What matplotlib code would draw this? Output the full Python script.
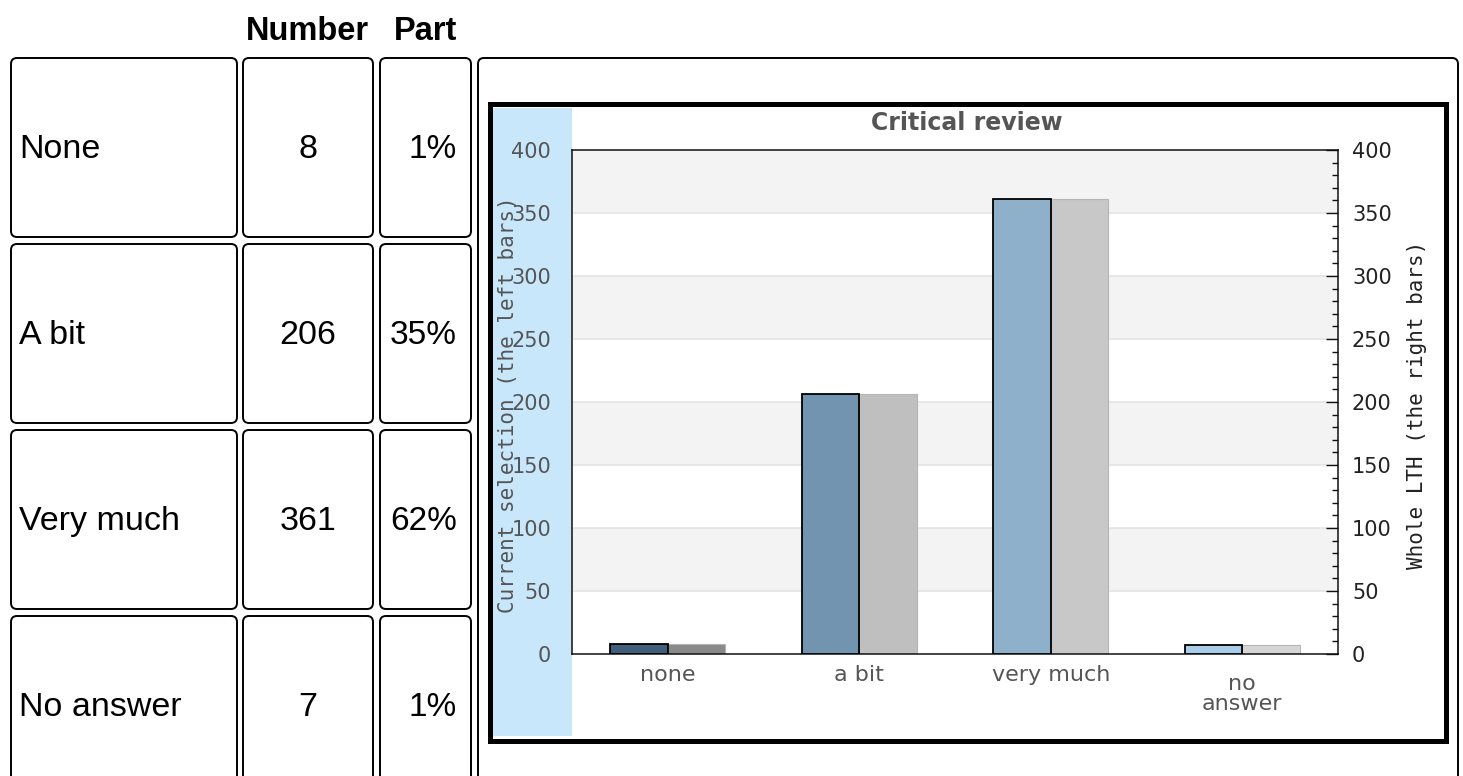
import matplotlib
matplotlib.use("Agg")
import matplotlib.pyplot as plt
from matplotlib.patches import FancyBboxPatch, Rectangle
from matplotlib.ticker import MultipleLocator
from matplotlib.transforms import ScaledTranslation

W, H = 1463, 776

# table values
answers = ["None", "A bit", "Very much", "No answer"]
numbers = [8, 206, 361, 7]
parts = ["1%", "35%", "62%", "1%"]

# chart values
categories = ["none", "a bit", "very much", "no\nanswer"]
selection = [8, 206, 361, 7]      # left bars
whole_lth = [8, 206, 361, 7]      # right bars
yticks = [0, 50, 100, 150, 200, 250, 300, 350, 400]

left_colors = ["#415f7c", "#7394b0", "#8fb0cb", "#a9cde9"]
right_colors = ["#8a8a8a", "#bfbfbf", "#c8c8c8", "#d6d6d6"]

fig = plt.figure(figsize=(W / 100, H / 100), dpi=100)

# background layer in pixel coordinates (y down)
bg = fig.add_axes([0, 0, 1, 1])
bg.set_xlim(0, W)
bg.set_ylim(H, 0)
bg.axis("off")


def box(x0, y0, x1, y1):
    bg.add_patch(FancyBboxPatch((x0, y0), x1 - x0, y1 - y0,
                                boxstyle="round,pad=0,rounding_size=6",
                                fc="white", ec="black", lw=1.4))


##### TABLE #####
cols = [(11, 237), (243, 373), (380, 471)]
rows = [(58, 237), (244, 423), (430, 609), (616, 800)]
tfont = dict(family="Liberation Sans", color="black", va="center")

bg.text(307, 31, "Number", ha="center", weight="bold", size=23.5, **tfont)
bg.text(426, 31, "Part", ha="center", weight="bold", size=23.5, **tfont)

for i, (y0, y1) in enumerate(rows):
    for x0, x1 in cols:
        box(x0, y0, x1, y1)
    yc = (y0 + y1) / 2 + 2 if i < 3 else 708
    bg.text(19, yc, answers[i], ha="left", size=24.5, **tfont)
    bg.text(308, yc, str(numbers[i]), ha="center", size=24.5, **tfont)
    bg.text(457, yc, parts[i], ha="right", size=24, **tfont)

# container on the right
box(478, 58, 1458, 820)

##### CHART IMAGE FRAME #####
bg.add_patch(Rectangle((489.5, 103.5), 956, 637, fc="white", ec="black", lw=3.6))
bg.add_patch(Rectangle((493, 108), 79, 628, fc="#c8e7fb", ec="none"))

##### CHART #####
ax = fig.add_axes([572 / W, 1 - 654 / H, 766 / W, 504 / H])
x = list(range(len(categories)))
bw = 0.3

for i, (lo, hi) in enumerate(zip(yticks[:-1], yticks[1:])):
    if i % 2 == 1:
        ax.axhspan(lo, hi, color="#f3f3f3", zorder=0, lw=0)
for t in yticks[1:-1]:
    ax.axhline(t, color="#e4e4e4", lw=1.2, zorder=0.5)

ax.bar([p + bw / 2 for p in x], whole_lth, width=bw, color=right_colors,
       edgecolor="#b5b5b5", linewidth=0.8, zorder=2)
ax.bar([p - bw / 2 for p in x], selection, width=bw, color=left_colors,
       edgecolor="black", linewidth=1.3, zorder=3)

ax.set_xlim(-0.5, len(categories) - 0.5)
ax.set_ylim(0, 400)
ax.set_yticks(yticks)
ax.set_xticks(x)
ax.set_xticklabels(categories, linespacing=1.0)
ax.tick_params(axis="x", length=0, pad=8, labelsize=16, labelcolor="#555555")
ax.tick_params(axis="y", length=0, pad=15, labelsize=15, labelcolor="#555555")
lab = ax.get_xticklabels()[-1]
lab.set_transform(lab.get_transform() + ScaledTranslation(0, -0.09, fig.dpi_scale_trans))

for s in ax.spines.values():
    s.set_color("#111111")
    s.set_linewidth(1.1)

ax2 = ax.twinx()
ax2.set_ylim(0, 400)
ax2.set_yticks(yticks)
ax2.yaxis.set_minor_locator(MultipleLocator(10))
ax2.tick_params(axis="y", which="major", direction="in", length=8.6, width=1.0,
                pad=10, labelsize=15, labelcolor="#222222", color="#111111")
ax2.tick_params(axis="y", which="minor", direction="in", length=4.3, width=1.0,
                color="#111111")
for s in ax2.spines.values():
    s.set_visible(False)

fig.text(967 / W, 1 - 123 / H, "Critical review", ha="center", va="center",
         weight="bold", size=17, color="#555555", family="DejaVu Sans")
fig.text(508 / W, 1 - 405 / H, "Current selection (the left bars)", rotation=90,
         ha="center", va="center", size=15, color="#555555", family="DejaVu Sans Mono")
fig.text(1417 / W, 1 - 405 / H, "Whole LTH (the right bars)", rotation=90,
         ha="center", va="center", size=15, color="#222222", family="DejaVu Sans Mono")

fig.savefig("out.png", dpi=100)
